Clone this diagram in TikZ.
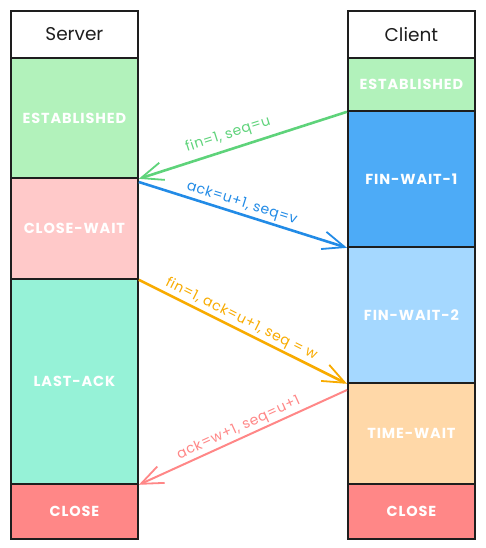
\documentclass[tikz,border=0pt]{standalone}
\usepackage{fontspec}
\setmainfont{Poppins}
\usetikzlibrary{arrows.meta}
\definecolor{estc}{HTML}{B2F2BB}
\definecolor{cwc}{HTML}{FFC9C9}
\definecolor{lac}{HTML}{96F2D7}
\definecolor{clc}{HTML}{FF8787}
\definecolor{fw1c}{HTML}{4DABF7}
\definecolor{fw2c}{HTML}{A5D8FF}
\definecolor{twc}{HTML}{FFD8A8}
\definecolor{ink}{HTML}{1E1E1E}
\definecolor{agreen}{HTML}{5ED37A}
\definecolor{ablue}{HTML}{228BE6}
\definecolor{aorange}{HTML}{F8AB00}
\definecolor{ared}{HTML}{FF8787}
\tikzset{
  statebox/.style={draw=ink, line width=1.8pt, anchor=north west, minimum width=127pt, inner sep=0pt,
    text=white, font=\fontsize{14.5}{16}\selectfont\bfseries\addfontfeature{LetterSpace=6}},
  headbox/.style={statebox, fill=white, text=ink, font=\fontsize{18.5}{20}\selectfont},
  msg/.style={line width=2.6pt, -{Straight Barb[length=22pt, width=18pt, line width=1.8pt]}},
  lbl/.style={font=\fontsize{14}{16}\selectfont\addfontfeature{LetterSpace=4}, sloped, above, inner sep=2pt}
}
\begin{document}
\begin{tikzpicture}[x=1pt, y=-1pt]
\useasboundingbox (0,0) rectangle (485,548);
% Server column
\node[headbox, minimum height=47pt] (shead) at (10,10) {Server};
\node[statebox, fill=estc, minimum height=120pt] (sest) at (10,57) {ESTABLISHED};
\node[statebox, fill=cwc, minimum height=101pt] (scw) at (10,177) {CLOSE-WAIT};
\node[statebox, fill=lac, minimum height=205pt] (sla) at (10,278) {LAST-ACK};
\node[statebox, fill=clc, minimum height=55pt] (scl) at (10,483) {CLOSE};
% Client column
\node[headbox, minimum height=47pt] (chead) at (347,10) {Client};
\node[statebox, fill=estc, minimum height=53pt] (cest) at (347,57) {ESTABLISHED};
\node[statebox, fill=fw1c, minimum height=136pt] (cfw1) at (347,110) {FIN-WAIT-1};
\node[statebox, fill=fw2c, minimum height=136pt] (cfw2) at (347,246) {FIN-WAIT-2};
\node[statebox, fill=twc, minimum height=101pt] (ctw) at (347,382) {TIME-WAIT};
\node[statebox, fill=clc, minimum height=55pt] (ccl) at (347,483) {CLOSE};
% Messages
\draw[msg, agreen] (cest.south west) -- (sest.south east)
  node[lbl, pos=0.55, text=agreen, yshift=4pt] {fin=1, seq=u};
\draw[msg, ablue] ([yshift=-5pt]scw.north east) -- (cfw1.south west)
  node[lbl, pos=0.48, text=ablue] {ack=u+1, seq=v};
\draw[msg, aorange] (scw.south east) -- (cfw2.south west)
  node[lbl, pos=0.47, text=aorange] {fin=1, ack=u+1, seq = w};
\draw[msg, ared, line width=2pt] ([yshift=-8pt]ctw.north west) -- (sla.south east)
  node[lbl, pos=0.5, text=ared] {ack=w+1, seq=u+1};
\end{tikzpicture}
\end{document}
